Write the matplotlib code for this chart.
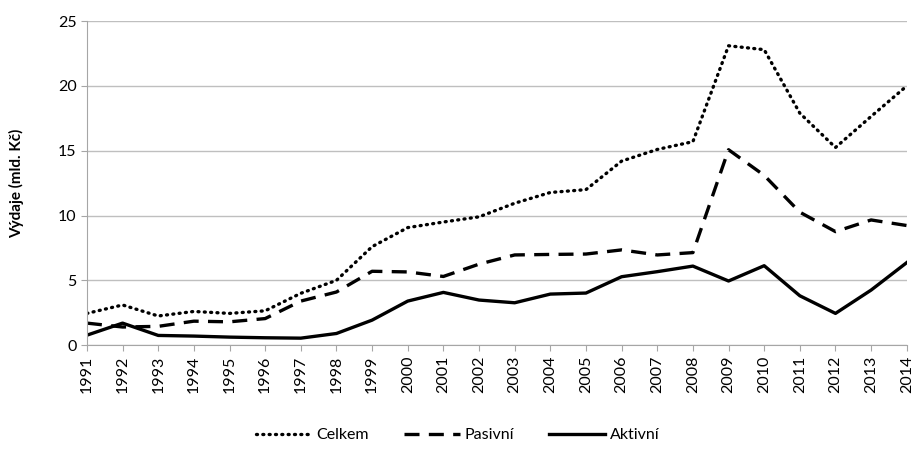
import matplotlib
matplotlib.use("Agg")
import matplotlib.pyplot as plt
import numpy as np

years = list(range(1991, 2015))
celkem = [2.45, 3.1, 2.25, 2.6, 2.45, 2.65, 4.0, 5.0, 7.6, 9.07, 9.5, 9.9,
          10.95, 11.78, 12.0, 14.2, 15.1, 15.7, 23.1, 22.8, 17.9, 15.25, 17.65, 20.0]
pasivni = [1.7, 1.4, 1.45, 1.85, 1.8, 2.05, 3.4, 4.1, 5.7, 5.65, 5.3, 6.25,
           6.96, 7.0, 7.03, 7.35, 6.96, 7.14, 15.08, 13.1, 10.26, 8.76, 9.66, 9.23]
aktivni = [0.77, 1.7, 0.75, 0.7, 0.62, 0.57, 0.54, 0.9, 1.93, 3.4, 4.07, 3.48,
           3.27, 3.94, 4.02, 5.28, 5.67, 6.1, 4.95, 6.13, 3.81, 2.45, 4.25, 6.37]
yticks = [0, 5, 10, 15, 20, 25]

plt.rcParams["font.family"] = ["Lato", "DejaVu Sans"]

fig = plt.figure(figsize=(9.15, 4.5), dpi=100)
ax = fig.add_axes([0.095, 0.233, 0.896, 0.72])

x = np.arange(len(years))
ax.plot(x, celkem, color="black", lw=2.4, linestyle=(0, (0.3, 1.6)),
        dash_capstyle="round", label="Celkem")
ax.plot(x, pasivni, color="black", lw=2.4, linestyle=(0, (4.5, 2.8)),
        label="Pasivní")
ax.plot(x, aktivni, color="black", lw=2.4, label="Aktivní")

ax.set_xlim(0, len(years) - 1)
ax.set_ylim(0, 25)
ax.set_yticks(yticks)
ax.set_xticks(x)
ax.set_xticklabels([str(y) for y in years], rotation=90, fontsize=11.5)
ax.tick_params(axis="y", labelsize=11.5, length=4, color="#a6a6a6")
ax.tick_params(axis="x", length=4, color="#a6a6a6")
ax.yaxis.grid(True, color="#bfbfbf", lw=1)
ax.set_axisbelow(True)
for s in ["top", "right"]:
    ax.spines[s].set_visible(False)
for s in ["left", "bottom"]:
    ax.spines[s].set_color("#a6a6a6")
ax.set_ylabel("Výdaje (mld. Kč)", fontsize=11, fontweight="bold", labelpad=24)

fig.legend(loc="lower center", bbox_to_anchor=(0.5, -0.015), ncol=3, frameon=False,
           fontsize=11.5, handlelength=3.5, columnspacing=2.2, handletextpad=0.3)

fig.savefig("out.png", dpi=100)
